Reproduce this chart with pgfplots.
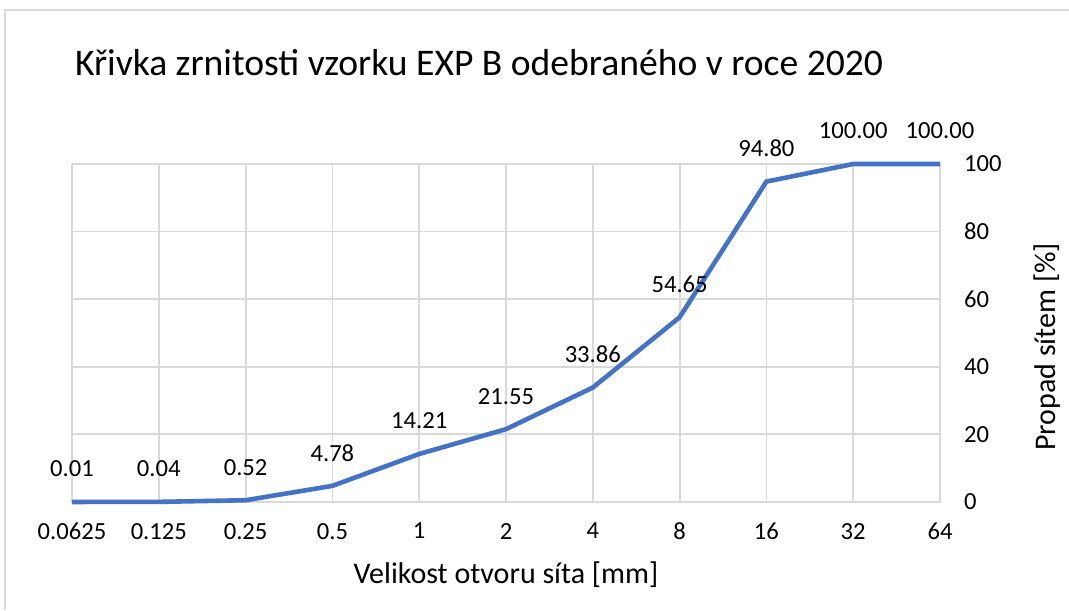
\documentclass[border=0pt]{standalone}
\usepackage{fontspec}
\setmainfont{Carlito}
\usepackage{pgfplots}
\pgfplotsset{compat=1.18}
\definecolor{exblue}{RGB}{68,114,196}
\definecolor{exgrid}{RGB}{217,217,217}
\begin{document}
\begin{tikzpicture}
% page frame (1069x610 px at 0.5pt/px)
\path[use as bounding box] (0,0) rectangle (534.5pt,305pt);
\draw[exgrid, line width=0.8pt] (2.5pt,0) -- (2.5pt,300pt) -- (534.5pt,300pt);
\begin{axis}[
  at={(36pt,54pt)}, anchor=south west,
  scale only axis, width=434pt, height=169pt,
  xmin=0, xmax=10, ymin=0, ymax=100,
  xtick={0,...,10},
  xticklabels={0.0625,0.125,0.25,0.5,1,2,4,8,16,32,64},
  ytick={0,20,...,100},
  yticklabel pos=right,
  major tick length=0pt,
  axis line style={draw=none},
  grid=major, grid style={exgrid, line width=0.9pt},
  /pgf/number format/assume math mode=true,
  tick label style={font=\fontsize{12.3}{14}\selectfont},
  xticklabel style={yshift=-7pt},
  yticklabel style={anchor=west, xshift=8.5pt},
  xlabel={Velikost otvoru síta [mm]},
  xlabel style={font=\fontsize{15}{18}\selectfont, at={(axis description cs:0.5,0)}, anchor=center, yshift=-36.5pt},
  ylabel={Propad sítem [\%]},
  ylabel style={font=\fontsize{15}{18}\selectfont, at={(axis description cs:1.1233,0.4586)}, anchor=center},
  title={Křivka zrnitosti vzorku EXP B odebraného v roce 2020},
  title style={font=\fontsize{18.8}{22}\selectfont, at={(axis description cs:0,1)}, anchor=base west, xshift=-2pt, yshift=38pt},
  clip=false,
  nodes near coords={\pgfmathprintnumber[fixed,fixed zerofill,precision=2]{\pgfplotspointmeta}},
  every node near coord/.append style={font=\fontsize{12.3}{14}\selectfont, text=black, anchor=center, yshift=16.5pt},
]
\addplot[color=exblue, line width=2.3pt, mark=none] coordinates {
  (0,0.01) (1,0.04) (2,0.52) (3,4.78) (4,14.21) (5,21.55)
  (6,33.86) (7,54.65) (8,94.80) (9,100.00) (10,100.00)
};
\end{axis}
\end{tikzpicture}
\end{document}
